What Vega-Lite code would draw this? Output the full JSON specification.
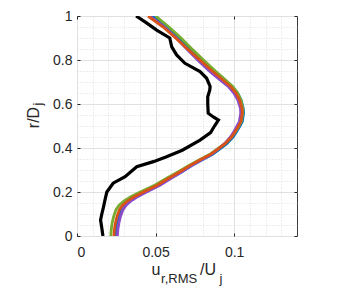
{
  "$schema": "https://vega.github.io/schema/vega-lite/v6.json",
  "width": 220,
  "height": 220,
  "autosize": "none",
  "padding": {"left": 77, "top": 16, "right": 54, "bottom": 51},
  "background": "white",
  "config": {
    "view": {"stroke": "#3a3a3a", "strokeWidth": 1},
    "font": "Liberation Sans",
    "axis": {"labelFont": "Liberation Sans", "labelFontSize": 14, "labelColor": "#262626", "tickColor": "#262626"}
  },
  "datasets": {
    "one": [{"k": 1}],
    "curves": [
      {"s":"blue","x":0.0245,"y":0},{"s":"blue","x":0.0248,"y":0.03},{"s":"blue","x":0.0255,"y":0.06},{"s":"blue","x":0.0266,"y":0.09},{"s":"blue","x":0.0282,"y":0.12},{"s":"blue","x":0.0302,"y":0.14},{"s":"blue","x":0.0335,"y":0.16},{"s":"blue","x":0.038,"y":0.18},{"s":"blue","x":0.0435,"y":0.2},{"s":"blue","x":0.0525,"y":0.232},{"s":"blue","x":0.059,"y":0.26},{"s":"blue","x":0.0667,"y":0.292},{"s":"blue","x":0.073,"y":0.32},{"s":"blue","x":0.0794,"y":0.345},{"s":"blue","x":0.086,"y":0.37},{"s":"blue","x":0.0916,"y":0.399},{"s":"blue","x":0.0953,"y":0.42},{"s":"blue","x":0.0994,"y":0.451},{"s":"blue","x":0.1012,"y":0.47},{"s":"blue","x":0.1035,"y":0.497},{"s":"blue","x":0.1052,"y":0.52},{"s":"blue","x":0.106,"y":0.558},{"s":"blue","x":0.1058,"y":0.58},{"s":"blue","x":0.1044,"y":0.618},{"s":"blue","x":0.1022,"y":0.65},{"s":"blue","x":0.0988,"y":0.68},{"s":"blue","x":0.0918,"y":0.724},{"s":"blue","x":0.0874,"y":0.75},{"s":"blue","x":0.0797,"y":0.8},{"s":"blue","x":0.0716,"y":0.853},{"s":"blue","x":0.0648,"y":0.9},{"s":"blue","x":0.057,"y":0.95},{"s":"blue","x":0.048,"y":1.0},
      {"s":"green","x":0.0215,"y":0},{"s":"green","x":0.0218,"y":0.03},{"s":"green","x":0.0224,"y":0.06},{"s":"green","x":0.0234,"y":0.09},{"s":"green","x":0.0248,"y":0.12},{"s":"green","x":0.0268,"y":0.14},{"s":"green","x":0.03,"y":0.16},{"s":"green","x":0.0345,"y":0.18},{"s":"green","x":0.0402,"y":0.2},{"s":"green","x":0.0497,"y":0.232},{"s":"green","x":0.0565,"y":0.26},{"s":"green","x":0.0645,"y":0.292},{"s":"green","x":0.071,"y":0.32},{"s":"green","x":0.0776,"y":0.345},{"s":"green","x":0.0843,"y":0.37},{"s":"green","x":0.09,"y":0.399},{"s":"green","x":0.094,"y":0.42},{"s":"green","x":0.0983,"y":0.451},{"s":"green","x":0.1003,"y":0.47},{"s":"green","x":0.1027,"y":0.497},{"s":"green","x":0.1045,"y":0.52},{"s":"green","x":0.1055,"y":0.558},{"s":"green","x":0.1055,"y":0.58},{"s":"green","x":0.1043,"y":0.618},{"s":"green","x":0.1022,"y":0.65},{"s":"green","x":0.099,"y":0.68},{"s":"green","x":0.0922,"y":0.724},{"s":"green","x":0.088,"y":0.75},{"s":"green","x":0.0805,"y":0.8},{"s":"green","x":0.0727,"y":0.853},{"s":"green","x":0.0662,"y":0.9},{"s":"green","x":0.0585,"y":0.95},{"s":"green","x":0.05,"y":1.0},
      {"s":"purple","x":0.0257,"y":0},{"s":"purple","x":0.026,"y":0.03},{"s":"purple","x":0.0267,"y":0.06},{"s":"purple","x":0.0277,"y":0.09},{"s":"purple","x":0.0293,"y":0.12},{"s":"purple","x":0.0313,"y":0.14},{"s":"purple","x":0.0345,"y":0.16},{"s":"purple","x":0.0388,"y":0.18},{"s":"purple","x":0.0442,"y":0.2},{"s":"purple","x":0.053,"y":0.232},{"s":"purple","x":0.0593,"y":0.26},{"s":"purple","x":0.0667,"y":0.292},{"s":"purple","x":0.0728,"y":0.32},{"s":"purple","x":0.079,"y":0.345},{"s":"purple","x":0.0853,"y":0.37},{"s":"purple","x":0.0905,"y":0.399},{"s":"purple","x":0.094,"y":0.42},{"s":"purple","x":0.0978,"y":0.451},{"s":"purple","x":0.0995,"y":0.47},{"s":"purple","x":0.1016,"y":0.497},{"s":"purple","x":0.1033,"y":0.52},{"s":"purple","x":0.1042,"y":0.558},{"s":"purple","x":0.104,"y":0.58},{"s":"purple","x":0.1024,"y":0.618},{"s":"purple","x":0.0998,"y":0.65},{"s":"purple","x":0.0962,"y":0.68},{"s":"purple","x":0.0885,"y":0.724},{"s":"purple","x":0.0842,"y":0.75},{"s":"purple","x":0.0768,"y":0.8},{"s":"purple","x":0.0694,"y":0.853},{"s":"purple","x":0.0632,"y":0.9},{"s":"purple","x":0.0556,"y":0.95},{"s":"purple","x":0.0462,"y":1.0},
      {"s":"orange","x":0.0235,"y":0},{"s":"orange","x":0.0238,"y":0.03},{"s":"orange","x":0.0245,"y":0.06},{"s":"orange","x":0.0255,"y":0.09},{"s":"orange","x":0.027,"y":0.12},{"s":"orange","x":0.029,"y":0.14},{"s":"orange","x":0.0323,"y":0.16},{"s":"orange","x":0.0368,"y":0.18},{"s":"orange","x":0.0423,"y":0.2},{"s":"orange","x":0.0513,"y":0.232},{"s":"orange","x":0.0578,"y":0.26},{"s":"orange","x":0.0655,"y":0.292},{"s":"orange","x":0.0718,"y":0.32},{"s":"orange","x":0.0782,"y":0.345},{"s":"orange","x":0.0848,"y":0.37},{"s":"orange","x":0.0905,"y":0.399},{"s":"orange","x":0.0943,"y":0.42},{"s":"orange","x":0.0985,"y":0.451},{"s":"orange","x":0.1003,"y":0.47},{"s":"orange","x":0.1026,"y":0.497},{"s":"orange","x":0.1043,"y":0.52},{"s":"orange","x":0.1052,"y":0.558},{"s":"orange","x":0.105,"y":0.58},{"s":"orange","x":0.1035,"y":0.618},{"s":"orange","x":0.1012,"y":0.65},{"s":"orange","x":0.0977,"y":0.68},{"s":"orange","x":0.0905,"y":0.724},{"s":"orange","x":0.086,"y":0.75},{"s":"orange","x":0.0782,"y":0.8},{"s":"orange","x":0.0698,"y":0.853},{"s":"orange","x":0.0628,"y":0.9},{"s":"orange","x":0.0548,"y":0.95},{"s":"orange","x":0.0452,"y":1.0},
      {"s":"black","x":0.0165,"y":0},{"s":"black","x":0.0158,"y":0.035},{"s":"black","x":0.015,"y":0.073},{"s":"black","x":0.0158,"y":0.1},{"s":"black","x":0.0168,"y":0.13},{"s":"black","x":0.018,"y":0.17},{"s":"black","x":0.019,"y":0.2},{"s":"black","x":0.023,"y":0.24},{"s":"black","x":0.0306,"y":0.27},{"s":"black","x":0.038,"y":0.315},{"s":"black","x":0.0486,"y":0.338},{"s":"black","x":0.057,"y":0.36},{"s":"black","x":0.067,"y":0.39},{"s":"black","x":0.0783,"y":0.436},{"s":"black","x":0.085,"y":0.47},{"s":"black","x":0.0875,"y":0.5},{"s":"black","x":0.09,"y":0.527},{"s":"black","x":0.087,"y":0.54},{"s":"black","x":0.0835,"y":0.558},{"s":"black","x":0.0832,"y":0.6},{"s":"black","x":0.0832,"y":0.633},{"s":"black","x":0.0845,"y":0.664},{"s":"black","x":0.0847,"y":0.68},{"s":"black","x":0.0825,"y":0.717},{"s":"black","x":0.0783,"y":0.747},{"s":"black","x":0.0687,"y":0.785},{"s":"black","x":0.0634,"y":0.823},{"s":"black","x":0.0603,"y":0.86},{"s":"black","x":0.059,"y":0.9},{"s":"black","x":0.0507,"y":0.936},{"s":"black","x":0.044,"y":0.97},{"s":"black","x":0.0376,"y":1.0}
    ]
  },
  "layer": [
    {
      "data": {"name": "curves"},
      "mark": {"type": "point", "opacity": 0},
      "encoding": {
        "x": {"field": "x", "type": "quantitative", "scale": {"domain": [0, 0.14], "nice": false, "zero": false},
          "axis": {"orient": "top", "values": [0.01,0.02,0.03,0.04,0.06,0.07,0.08,0.09,0.11,0.12,0.13], "labels": false, "ticks": false, "domain": false, "title": null, "grid": true, "gridColor": "#cfcfcf", "gridDash": [1, 2], "gridWidth": 0.7}},
        "y": {"field": "y", "type": "quantitative", "scale": {"domain": [0, 1], "nice": false, "zero": false},
          "axis": {"orient": "right", "values": [0.05,0.1,0.15,0.25,0.3,0.35,0.45,0.5,0.55,0.65,0.7,0.75,0.85,0.9,0.95], "labels": false, "ticks": false, "domain": false, "title": null, "grid": true, "gridColor": "#cfcfcf", "gridDash": [1, 2], "gridWidth": 0.7}}
      }
    },
    {
      "data": {"name": "curves"},
      "mark": {"type": "line", "strokeWidth": 2.6, "clip": true},
      "encoding": {
        "x": {"field": "x", "type": "quantitative", "scale": {"domain": [0, 0.14], "nice": false, "zero": false},
          "axis": {"orient": "bottom", "values": [0, 0.05, 0.1], "format": "~g", "title": null, "domain": false, "grid": true, "gridColor": "#e0e0e0", "tickSize": -3, "labelPadding": 12}},
        "y": {"field": "y", "type": "quantitative", "scale": {"domain": [0, 1], "nice": false, "zero": false},
          "axis": {"orient": "left", "values": [0, 0.2, 0.4, 0.6, 0.8, 1], "format": "~g", "title": null, "domain": false, "grid": true, "gridColor": "#e0e0e0", "tickSize": -3, "labelPadding": 8}},
        "color": {"field": "s", "type": "nominal", "legend": null,
          "scale": {"domain": ["blue", "green", "purple", "orange", "black"], "range": ["#0072BD", "#77AC30", "#8B4CC9", "#D95319", "#000000"]}},
        "size": {"condition": {"test": "datum.s === 'black'", "value": 3.2}, "value": 2.8},
        "order": {"field": "y", "type": "quantitative"}
      }
    },
    {
      "data": {"name": "curves"},
      "mark": {"type": "point", "opacity": 0},
      "encoding": {
        "x": {"field": "x", "type": "quantitative", "scale": {"domain": [0, 0.14], "nice": false, "zero": false},
          "axis": {"orient": "top", "values": [0, 0.05, 0.1], "labels": false, "domain": false, "title": null, "grid": false, "tickSize": -3}},
        "y": {"field": "y", "type": "quantitative", "scale": {"domain": [0, 1], "nice": false, "zero": false},
          "axis": {"orient": "right", "values": [0, 0.2, 0.4, 0.6, 0.8, 1], "labels": false, "domain": false, "title": null, "grid": false, "tickSize": -3}}
      }
    },
    {
      "data": {"name": "one"},
      "mark": {"type": "text", "align": "left", "baseline": "alphabetic", "fontSize": 16, "font": "Liberation Sans", "color": "#262626"},
      "encoding": {"x": {"datum": 0.0474, "type": "quantitative", "axis": null}, "y": {"datum": -0.177, "type": "quantitative", "axis": null}, "text": {"value": "u"}}
    },
    {
      "data": {"name": "one"},
      "mark": {"type": "text", "align": "left", "baseline": "alphabetic", "fontSize": 13, "font": "Liberation Sans", "color": "#262626"},
      "encoding": {"x": {"datum": 0.0535, "type": "quantitative", "axis": null}, "y": {"datum": -0.214, "type": "quantitative", "axis": null}, "text": {"value": "r,RMS"}}
    },
    {
      "data": {"name": "one"},
      "mark": {"type": "text", "align": "left", "baseline": "alphabetic", "fontSize": 16, "font": "Liberation Sans", "color": "#262626"},
      "encoding": {"x": {"datum": 0.0783, "type": "quantitative", "axis": null}, "y": {"datum": -0.177, "type": "quantitative", "axis": null}, "text": {"value": "/U"}}
    },
    {
      "data": {"name": "one"},
      "mark": {"type": "text", "align": "left", "baseline": "alphabetic", "fontSize": 13, "font": "Liberation Sans", "color": "#262626"},
      "encoding": {"x": {"datum": 0.0907, "type": "quantitative", "axis": null}, "y": {"datum": -0.214, "type": "quantitative", "axis": null}, "text": {"value": "j"}}
    },
    {
      "data": {"name": "one"},
      "mark": {"type": "text", "align": "left", "baseline": "alphabetic", "angle": 270, "fontSize": 16, "font": "Liberation Sans", "color": "#262626"},
      "encoding": {"x": {"datum": -0.0245, "type": "quantitative", "axis": null}, "y": {"datum": 0.49, "type": "quantitative", "axis": null}, "text": {"value": "r/D"}}
    },
    {
      "data": {"name": "one"},
      "mark": {"type": "text", "align": "left", "baseline": "alphabetic", "angle": 270, "fontSize": 13, "font": "Liberation Sans", "color": "#262626"},
      "encoding": {"x": {"datum": -0.0222, "type": "quantitative", "axis": null}, "y": {"datum": 0.593, "type": "quantitative", "axis": null}, "text": {"value": "j"}}
    }
  ],
  "resolve": {"axis": {"x": "independent", "y": "independent"}}
}
